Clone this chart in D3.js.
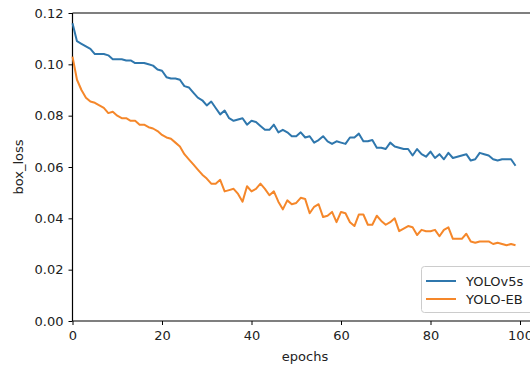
<!DOCTYPE html>
<html>
<head>
<meta charset="utf-8">
<script src="https://cdn.jsdelivr.net/npm/d3@7"></script>
<style>
  body { margin: 0; background: #fff; }
  svg { display: block; font-family: "DejaVu Sans", sans-serif; }
</style>
</head>
<body>
<svg id="chart" width="530" height="365"></svg>
<script>
// box_loss per epoch
const yolov5s = [
  0.116, 0.109, 0.108, 0.107, 0.106, 0.104, 0.104, 0.104, 0.1035, 0.102,
  0.102, 0.102, 0.1015, 0.1015, 0.1005, 0.1005, 0.1005, 0.100, 0.0995, 0.098,
  0.0975, 0.095, 0.0945, 0.0945, 0.094, 0.0915, 0.091, 0.089, 0.087, 0.086,
  0.084, 0.0855, 0.083, 0.0805, 0.082, 0.079, 0.078, 0.0785, 0.079, 0.0765,
  0.078, 0.0775, 0.076, 0.0745, 0.0745, 0.0765, 0.0735, 0.0745, 0.0735, 0.072,
  0.072, 0.0735, 0.0715, 0.072, 0.0695, 0.0705, 0.072, 0.070, 0.069, 0.070,
  0.0695, 0.069, 0.0715, 0.0715, 0.073, 0.070, 0.070, 0.0705, 0.0675, 0.0675,
  0.067, 0.0695, 0.068, 0.0675, 0.067, 0.067, 0.0645, 0.067, 0.065, 0.064,
  0.066, 0.0635, 0.065, 0.063, 0.0655, 0.0635, 0.064, 0.0645, 0.065, 0.0625,
  0.063, 0.0655, 0.065, 0.0645, 0.063, 0.0625, 0.063, 0.063, 0.063, 0.0605
];
const yoloEB = [
  0.103, 0.094, 0.090, 0.087, 0.0855, 0.085, 0.084, 0.083, 0.081, 0.0815,
  0.080, 0.079, 0.079, 0.078, 0.078, 0.0765, 0.0765, 0.0755, 0.075, 0.074,
  0.0725, 0.0715, 0.071, 0.0695, 0.068, 0.065, 0.063, 0.061, 0.059, 0.057,
  0.0555, 0.0535, 0.0535, 0.055, 0.0505, 0.051, 0.0515, 0.0495, 0.0465, 0.0525,
  0.0505, 0.0515, 0.0535, 0.0515, 0.049, 0.0505, 0.0465, 0.0435, 0.047, 0.0455,
  0.046, 0.048, 0.0475, 0.042, 0.0445, 0.0455, 0.0405, 0.041, 0.0425, 0.0385,
  0.0425, 0.042, 0.0385, 0.037, 0.0415, 0.0415, 0.0375, 0.0375, 0.041, 0.039,
  0.0375, 0.0385, 0.040, 0.035, 0.036, 0.037, 0.0365, 0.0335, 0.0355, 0.035,
  0.035, 0.0355, 0.033, 0.0355, 0.0365, 0.032, 0.032, 0.032, 0.034, 0.031,
  0.0305, 0.031, 0.031, 0.031, 0.030, 0.0305, 0.030, 0.0295, 0.030, 0.0295
];
const seriesNames = ["YOLOv5s", "YOLO-EB"];
const seriesColors = ["#2f77ad", "#f5872a"];
const xTicks = [0, 20, 40, 60, 80, 100];
const yTicks = [0, 0.02, 0.04, 0.06, 0.08, 0.10, 0.12];

const svg = d3.select("#chart");
const plotLeft = 72.5, plotTop = 13, plotBottom = 321;

const x = d3.scaleLinear().domain([0, 100]).range([plotLeft, 520]);
const y = d3.scaleLinear().domain([0, 0.12]).range([plotBottom, plotTop]);

// axes
const xAxis = svg.append("g")
    .attr("transform", `translate(0,${plotBottom})`)
    .call(d3.axisBottom(x).tickValues(xTicks).tickSize(4).tickPadding(6).tickFormat(d3.format("d")));
const yAxis = svg.append("g")
    .attr("transform", `translate(${plotLeft},0)`)
    .call(d3.axisLeft(y).tickValues(yTicks).tickSize(4).tickPadding(5).tickFormat(d3.format(".2f")));

[xAxis, yAxis].forEach(g => {
    g.select(".domain").remove();
    g.selectAll("text").attr("font-size", 13).attr("font-family", "DejaVu Sans, sans-serif").attr("fill", "#222");
    g.selectAll("line").attr("stroke", "#000").attr("stroke-width", 1);
});

// spines
svg.append("line").attr("x1", plotLeft).attr("x2", plotLeft).attr("y1", plotTop).attr("y2", plotBottom)
    .attr("stroke", "#000").attr("stroke-width", 1.2);
svg.append("line").attr("x1", plotLeft).attr("x2", 530).attr("y1", plotBottom).attr("y2", plotBottom)
    .attr("stroke", "#000").attr("stroke-width", 1.2);
svg.append("line").attr("x1", plotLeft).attr("x2", 530).attr("y1", plotTop).attr("y2", plotTop)
    .attr("stroke", "#000").attr("stroke-width", 1.2);

// lines
const line = d3.line().x((d, i) => x(i)).y(d => y(d));
[yolov5s, yoloEB].forEach((s, k) => {
    svg.append("path")
        .datum(s)
        .attr("d", line)
        .attr("fill", "none")
        .attr("stroke", seriesColors[k])
        .attr("stroke-width", 2)
        .attr("stroke-linejoin", "round");
});

// axis labels
svg.append("text")
    .attr("x", 305).attr("y", 361)
    .attr("text-anchor", "middle")
    .attr("font-size", 13).attr("fill", "#222")
    .text("epochs");
svg.append("text")
    .attr("transform", `translate(23,167) rotate(-90)`)
    .attr("text-anchor", "middle")
    .attr("font-size", 13).attr("fill", "#222")
    .text("box_loss");

// legend
const legend = svg.append("g");
legend.append("rect")
    .attr("x", 421.5).attr("y", 266.5)
    .attr("width", 120).attr("height", 46)
    .attr("rx", 3)
    .attr("fill", "white").attr("fill-opacity", 0.8)
    .attr("stroke", "#ccc");
seriesNames.forEach((name, i) => {
    const ly = 281 + i * 18;
    legend.append("line")
        .attr("x1", 426).attr("x2", 456).attr("y1", ly).attr("y2", ly)
        .attr("stroke", seriesColors[i]).attr("stroke-width", 2);
    legend.append("text")
        .attr("x", 466).attr("y", ly + 4.5)
        .attr("font-size", 13).attr("fill", "#222")
        .text(name);
});
</script>
</body>
</html>
